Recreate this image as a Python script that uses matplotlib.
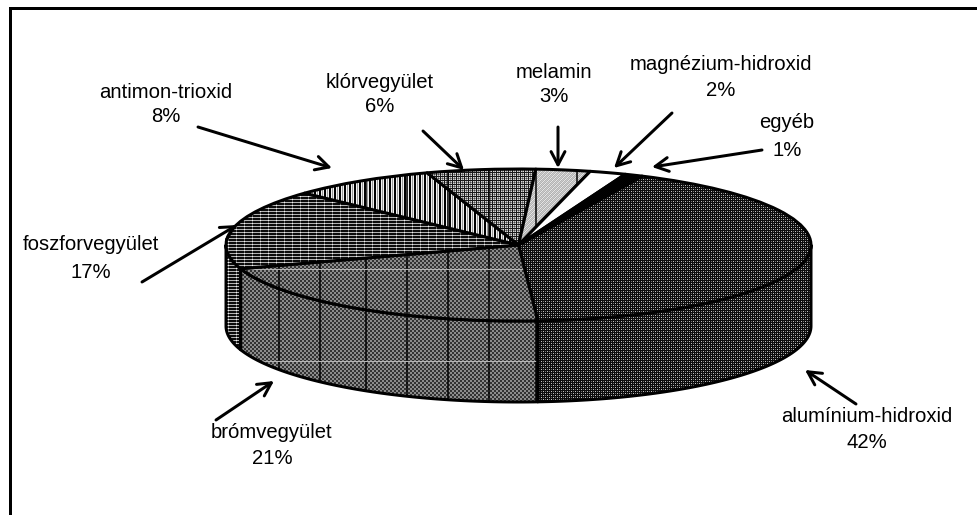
import numpy as np
import matplotlib
matplotlib.use('Agg')
import matplotlib.pyplot as plt
from matplotlib.patches import Wedge, Polygon
from matplotlib.transforms import Affine2D

labels = ['alumínium-hidroxid', 'brómvegyület', 'foszforvegyület', 'antimon-trioxid',
          'klórvegyület', 'melamin', 'magnézium-hidroxid', 'egyéb']
values = [42, 21, 17, 8, 6, 3, 2, 1]

# label centres (two text lines) and arrows in picture pixels
label_x = [867, 272, 91, 166, 380, 554, 721, 787]
label_y = [416, 433, 245, 92, 82, 73, 65, 123]
line_gap = [26, 26, 27, 24, 25, 24, 25, 27]
arrow_from = [(856, 404), (216, 420), (142, 282), (198, 127), (423, 131), (558, 127), (672, 113), (762, 150)]
arrow_to = [(805, 370), (274, 381), (237, 225), (332, 168), (464, 170), (558, 168), (614, 168), (652, 167)]

cx, cy, rx, ry = 518.5, 245, 292.5, 76
depth = 81
start_angle = 65

# small repeating fill patterns, one per slice (0 black, 1 white)
tiles = [
    np.array([[.05, .05, .05, .05], [.05, .75, .05, .45], [.05, .05, .05, .05], [.05, .45, .05, .75]]),
    np.array([[.2, .2, .55, .55], [.2, .2, .55, .55], [.55, .55, .2, .2], [.55, .55, .2, .2]]),
    np.array([[.05, .05, .05, .05, .4, .05, .05, .05], [.7, .7, .7, .7, .95, .7, .7, .7], [.05, .05, .05, .05, .4, .05, .05, .05]]),
    np.array([[0, .95, .6, .95, 0]]),
    np.array([[.1, .1, .1, .1], [.1, .85, .55, .85], [.1, .55, .3, .55], [.1, .85, .55, .85]]),
    np.array([[.9, .7, .8, .7], [.7, .8, .7, .9], [.8, .7, .9, .7], [.7, .9, .7, .8]]),
    np.array([[1.0]]),
    np.array([[0.0]]),
]
grid_x = [279, 320, 366, 407, 448, 489, 536, 577]
grid_y = [269, 361]

fig = plt.figure(figsize=(9.77, 5.15), dpi=100)
ax = fig.add_axes([0, 0, 1, 1])
ax.axis('off')

px = 0.72  # one pixel in points
ellipse = Affine2D().scale(rx, -ry).translate(cx, cy) + ax.transData


def fill_patch(patch, tile, z, vlines=False, hlines=False):
    ax.add_patch(patch)
    patch.set_zorder(z + 0.2)
    patch.set_facecolor('none')
    reps = (515 // tile.shape[0] + 1, 977 // tile.shape[1] + 1)
    img = np.tile(tile, reps)[:515, :977]
    im = ax.imshow(img, cmap='gray', vmin=0, vmax=1, extent=(0, 977, 515, 0),
                   interpolation='nearest', aspect='auto', zorder=z)
    im.set_clip_path(patch)
    if vlines:
        ln = ax.vlines(grid_x, 0, 515, color='black', lw=1.5 * px, zorder=z + 0.1)
        ln.set_clip_path(patch)
    if hlines:
        ln = ax.hlines(grid_y, 0, 977, color='#b5b5b5', lw=1.0 * px, zorder=z + 0.1)
        ln.set_clip_path(patch)


# slice angles follow the values, clockwise from the start angle
ends = start_angle - np.cumsum(values) * 3.6
starts = np.concatenate([[start_angle], ends[:-1]])

# outer walls: only the front half of the cylinder is visible
for i, (a, b) in enumerate(zip(starts, ends)):
    lo, hi = max(b, -180), min(a, 0)
    if lo >= hi:
        continue
    t = np.radians(np.linspace(hi, lo, 80))
    xs = cx + rx * np.cos(t)
    ys = cy - ry * np.sin(t)
    pts = np.vstack([np.column_stack([xs, ys]), np.column_stack([xs, ys + depth])[::-1]])
    wall = Polygon(pts, closed=True, edgecolor='black', lw=3 * px, joinstyle='round')
    fill_patch(wall, tiles[i], 2, vlines=(i == 1), hlines=(i == 1))

# top face
for i, (a, b) in enumerate(zip(starts, ends)):
    w = Wedge((0, 0), 1, b, a, transform=ellipse, edgecolor='black', lw=3 * px, joinstyle='round')
    fill_patch(w, tiles[i], 4 + i * 0.5, vlines=i in (1, 3, 4, 5), hlines=(i == 1))

font = dict(family='Liberation Sans', fontsize=14.6, color='black', ha='center', va='center')
for name, v, x, y, gap, a0, a1 in zip(labels, values, label_x, label_y, line_gap, arrow_from, arrow_to):
    ax.text(x, y, name, **font)
    ax.text(x, y + gap, f'{v}%', **font)
    ax.annotate('', xy=a1, xytext=a0, zorder=20,
                arrowprops=dict(arrowstyle='->,head_length=0.95,head_width=0.5', color='black',
                                lw=3 * px, shrinkA=0, shrinkB=0))

# frame is open on the right and at the bottom
ax.plot([9.5, 9.5, 977], [515, 7.5, 7.5], color='black', lw=3 * px, zorder=30, solid_joinstyle='miter')

ax.set_xlim(0, 977)
ax.set_ylim(515, 0)
fig.savefig('out.png', dpi=100, facecolor='white')
